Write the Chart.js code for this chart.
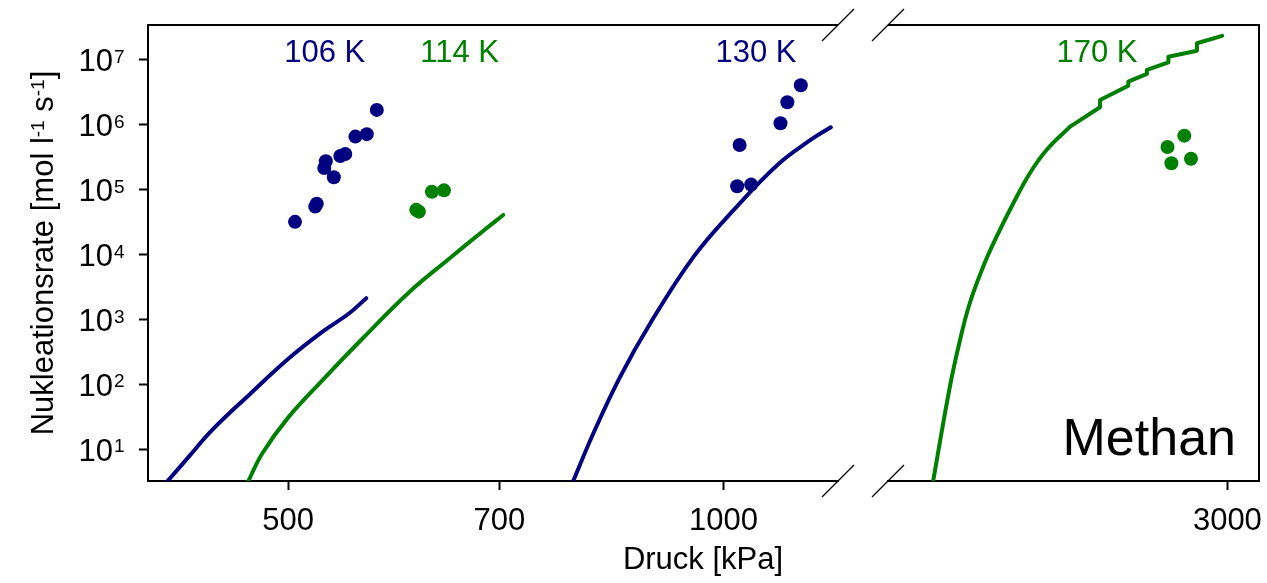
<!DOCTYPE html>
<html>
<head>
<meta charset="utf-8">
<script src="https://cdn.jsdelivr.net/npm/chart.js@4.4.1/dist/chart.umd.min.js"></script>
<style>
  body { margin: 0; background: #fff; }
  #wrap { position: relative; width: 1267px; height: 583px; }
  #left { position: absolute; left: 0; top: 0; }
  #right { position: absolute; left: 865px; top: 0; }
</style>
</head>
<body>
<div id="wrap">
  <canvas id="left" width="865" height="583"></canvas>
  <canvas id="right" width="402" height="583"></canvas>
</div>
<script>
const FONT = "'Liberation Sans', Arial, sans-serif";
const NAVY = '#000080';
const GREEN = '#008000';

// axis ranges (broken pressure axis)
const J_MIN = 3.25, J_MAX = 3.46e7;
const P_LEFT = [400, 1200];
const P_RIGHT = [1747, 3155];

const xTicksLeft = [500, 700, 1000];
const xTicksRight = [3000];
const yTicks = [1e1, 1e2, 1e3, 1e4, 1e5, 1e6, 1e7];

// measured nucleation rates (dots)
const exp106P = [505.5, 522.0, 523.3, 529.6, 530.9, 537.7, 543.3, 547.6, 556.5, 566.7, 575.8];
const exp106J = [3.2e4, 5.5e4, 6.1e4, 2.17e5, 2.75e5, 1.56e5, 3.32e5, 3.56e5, 6.6e5, 7.2e5, 1.7e6];
const exp114P = [613.1, 615.7, 628.6, 640.8];
const exp114J = [4.9e4, 4.6e4, 9.3e4, 9.8e4];
const exp130P = [1022, 1026, 1045, 1095, 1107, 1131];
const exp130J = [1.13e5, 4.9e5, 1.2e5, 1.06e6, 2.23e6, 4.07e6];
const exp170P = [2727, 2744, 2801, 2831];
const exp170J = [4.56e5, 2.56e5, 6.82e5, 3.01e5];

// theory curves (lines)
const theo106P = [412.4, 426.9, 443.1, 469.8, 500.6, 528.2, 551.1, 566.2];
const theo106J = [3.18, 7.72, 19.9, 68.9, 253, 651, 1250, 2130];
const theo114P = [469.1, 479.9, 500.6, 528.2, 563.1, 606.7, 646.4, 682.0, 704.2];
const theo114J = [3.18, 8.71, 31.9, 117, 515, 2690, 8740, 2.32e4, 4.09e4];
const theo130P = [786.5, 812.9, 848.4, 890, 953.7, 1016.5, 1089.6, 1148.7, 1186.3];
const theo130J = [3.1, 17.7, 132, 877, 9310, 4.89e4, 2.41e5, 5.85e5, 9.19e5];
const theo170P = [1877, 1928, 1958, 1990, 2033, 2077, 2133, 2190, 2249, 2335];
const theo170J = [3.18, 92.5, 452, 1783, 6530, 1.89e4, 6.19e4, 1.8e5, 4.1e5, 9.38e5];
// upper part of the 170 K curve has small steps
const theo170bP = [2335, 2449, 2449, 2562, 2562, 2639, 2639, 2731, 2731, 2858, 2858, 2975];
const theo170bJ = [9.38e5, 1.87e6, 2.42e6, 4.02e6, 4.63e6, 6.09e6, 7.01e6, 9.22e6, 1.12e7, 1.39e7, 1.81e7, 2.35e7];

// temperature labels, anchored at a pressure
const labelsLeft = [
  { text: '106 K', p: 530, color: NAVY },
  { text: '114 K', p: 657, color: GREEN },
  { text: '130 K', p: 1053, color: NAVY }
];
const labelsRight = [{ text: '170 K', p: 2437, color: GREEN }];

Chart.defaults.font.family = FONT;
Chart.defaults.color = '#000';

const pts = (xs, ys) => xs.map((x, i) => ({ x: x, y: ys[i] }));

const dots = (label, xs, ys, color) => ({
  label: label, data: pts(xs, ys), showLine: false,
  pointRadius: 7, pointBorderWidth: 0,
  pointBackgroundColor: color, backgroundColor: color, borderColor: color
});

const curve = (label, xs, ys, color, smooth) => ({
  label: label, data: pts(xs, ys), showLine: true, pointRadius: 0,
  borderColor: color, borderWidth: 4, borderCapStyle: 'round', borderJoinStyle: 'round',
  tension: smooth ? 0.4 : 0, fill: false
});

const gridStyle = { display: true, drawOnChartArea: false, drawTicks: true, tickLength: 9, tickWidth: 2, tickColor: '#000' };
const borderStyle = { display: true, color: '#000', width: 2 };

function xAxis(range, tickValues) {
  return {
    type: 'logarithmic', min: range[0], max: range[1], bounds: 'data',
    border: borderStyle, grid: gridStyle,
    ticks: { font: { size: 31 }, color: '#000', padding: 13, maxRotation: 0, autoSkip: false, callback: v => String(v) },
    afterBuildTicks: s => { s.ticks = tickValues.map(v => ({ value: v })); },
    afterFit: s => { s.height = 102; s.paddingLeft = 0; s.paddingRight = 0; }
  };
}

function drawBreak(ctx, x, y) {
  ctx.beginPath();
  ctx.moveTo(x - 16, y + 16);
  ctx.lineTo(x + 16, y - 16);
  ctx.stroke();
}

function drawTempLabels(chart, list) {
  const { ctx, chartArea: a, scales } = chart;
  ctx.font = '31px ' + FONT;
  ctx.textAlign = 'center';
  ctx.textBaseline = 'alphabetic';
  list.forEach(l => {
    ctx.fillStyle = l.color;
    ctx.fillText(l.text, scales.x.getPixelForValue(l.p), a.top + 37);
  });
}

const leftDecor = {
  id: 'leftDecor',
  afterDraw(chart) {
    const { ctx, chartArea: a, scales } = chart;
    ctx.save();
    ctx.strokeStyle = '#000';
    ctx.lineWidth = 2;
    ctx.beginPath();
    ctx.moveTo(a.left - 1, a.top);
    ctx.lineTo(a.right, a.top);
    ctx.stroke();
    ctx.lineWidth = 1.2;
    drawBreak(ctx, a.right, a.top);
    drawBreak(ctx, a.right, a.bottom);

    // y tick labels as 10 with exponent
    ctx.fillStyle = '#000';
    ctx.textBaseline = 'alphabetic';
    yTicks.forEach(v => {
      const py = scales.y.getPixelForValue(v);
      ctx.font = '31px ' + FONT;
      ctx.textAlign = 'right';
      ctx.fillText('10', a.left - 35, py + 11.5);
      ctx.font = '19px ' + FONT;
      ctx.textAlign = 'left';
      ctx.fillText(String(Math.round(Math.log10(v))), a.left - 34, py + 3);
    });

    // y title with superscripts
    const parts = [['Nukleationsrate [mol l', 0], ['-1', 1], [' s', 0], ['-1', 1], [']', 0]];
    const fontFor = s => (s ? '19px ' : '31px ') + FONT;
    ctx.save();
    ctx.translate(53, 253);
    ctx.rotate(-Math.PI / 2);
    let total = 0;
    parts.forEach(([t, s]) => { ctx.font = fontFor(s); total += ctx.measureText(t).width; });
    let u = -total / 2;
    ctx.textAlign = 'left';
    parts.forEach(([t, s]) => {
      ctx.font = fontFor(s);
      ctx.fillText(t, u, s ? -9 : 0);
      u += ctx.measureText(t).width;
    });
    ctx.restore();

    // x title, centred under both panels
    ctx.font = '31px ' + FONT;
    ctx.textAlign = 'center';
    ctx.fillText('Druck [kPa]', 703, 569);

    drawTempLabels(chart, labelsLeft);
    ctx.restore();
  }
};

const rightDecor = {
  id: 'rightDecor',
  afterDraw(chart) {
    const { ctx, chartArea: a } = chart;
    ctx.save();
    ctx.strokeStyle = '#000';
    ctx.lineWidth = 2;
    ctx.beginPath();
    ctx.moveTo(a.left, a.top);
    ctx.lineTo(a.right, a.top);
    ctx.lineTo(a.right, a.bottom + 1);
    ctx.stroke();
    ctx.lineWidth = 1.2;
    drawBreak(ctx, a.left, a.top);
    drawBreak(ctx, a.left, a.bottom);

    drawTempLabels(chart, labelsRight);

    ctx.fillStyle = '#000';
    ctx.font = '52px ' + FONT;
    ctx.textAlign = 'right';
    ctx.textBaseline = 'alphabetic';
    ctx.fillText('Methan', a.right - 23, a.bottom - 26);
    ctx.restore();
  }
};

const common = {
  responsive: false,
  animation: false,
  events: [],
  plugins: { legend: { display: false }, tooltip: { enabled: false } }
};

new Chart(document.getElementById('left'), {
  type: 'scatter',
  data: {
    datasets: [
      dots('106 K Messung', exp106P, exp106J, NAVY),
      dots('114 K Messung', exp114P, exp114J, GREEN),
      dots('130 K Messung', exp130P, exp130J, NAVY),
      curve('106 K Theorie', theo106P, theo106J, NAVY, true),
      curve('114 K Theorie', theo114P, theo114J, GREEN, true),
      curve('130 K Theorie', theo130P, theo130J, NAVY, true)
    ]
  },
  options: {
    ...common,
    layout: { padding: { left: 0, top: 25, right: 27, bottom: 0 } },
    scales: {
      x: xAxis(P_LEFT, xTicksLeft),
      y: {
        type: 'logarithmic', min: J_MIN, max: J_MAX, bounds: 'data',
        border: borderStyle, grid: gridStyle,
        ticks: { display: false },
        afterBuildTicks: s => { s.ticks = yTicks.map(v => ({ value: v })); },
        afterFit: s => { s.width = 148; }
      }
    }
  },
  plugins: [leftDecor]
});

new Chart(document.getElementById('right'), {
  type: 'scatter',
  data: {
    datasets: [
      dots('170 K Messung', exp170P, exp170J, GREEN),
      curve('170 K Theorie', theo170P, theo170J, GREEN, true),
      curve('170 K Theorie (oben)', theo170bP, theo170bJ, GREEN, false)
    ]
  },
  options: {
    ...common,
    layout: { padding: { left: 23, top: 25, right: 8, bottom: 0 } },
    scales: {
      x: xAxis(P_RIGHT, xTicksRight),
      y: { type: 'logarithmic', min: J_MIN, max: J_MAX, bounds: 'data', display: false }
    }
  },
  plugins: [rightDecor]
});
</script>
</body>
</html>
